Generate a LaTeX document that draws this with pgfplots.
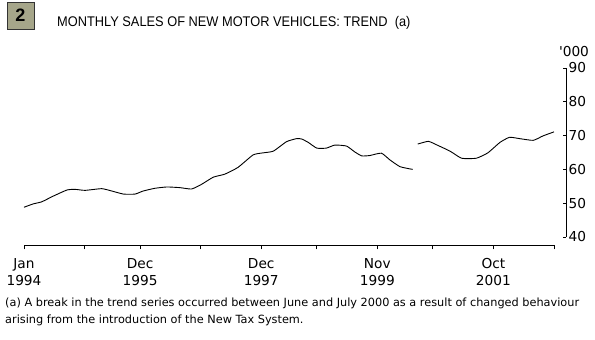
\documentclass[border=0pt]{standalone}
\usepackage{fontspec}
\setmainfont{Liberation Sans}
\newfontfamily\dvs{DejaVu Sans}
\usepackage{pgfplots}
\pgfplotsset{compat=1.18}
\definecolor{boxcol}{HTML}{A6A68A}
\begin{document}
\begin{tikzpicture}[x=1pt,y=1pt]
\useasboundingbox (0,0) rectangle (595,340);
% number box
\draw[fill=boxcol, draw=black!80, line width=0.8pt] (7,311) rectangle (34,338);
\node[font=\fontsize{18}{18}\selectfont\bfseries] at (20.5,324.5) {2};
% title
\node[anchor=base west, inner sep=0pt, font=\fontsize{14}{16}\selectfont] at (57,313) {\scalebox{0.915}[1]{MONTHLY SALES OF NEW MOTOR VEHICLES: TREND\ \ (a)}};
% footnote
\node[anchor=base west, inner sep=0pt, font=\dvs\fontsize{11.3}{16.5}\selectfont] at (5,33.3) {(a) A break in the trend series occurred between June and July 2000 as a result of changed behaviour};
\node[anchor=base west, inner sep=0pt, font=\dvs\fontsize{11.3}{16.5}\selectfont] at (5,16.7) {arising from the introduction of the New Tax System.};
% x axis
\begin{axis}[at={(24pt,94.5pt)}, anchor=south west, scale only axis,
  width=530pt, height=10pt, xmin=0, xmax=105, ymin=0, ymax=1,
  axis x line*=bottom, axis y line=none,
  xtick={0,23,47,70,93},
  xticklabels={Jan\\1994, Dec\\1995, Dec\\1997, Nov\\1999, Oct\\2001},
  minor xtick={12,35,58,81,105},
  tick align=outside, major tick length=4pt, minor tick length=4pt,
  tick style={black, line width=0.8pt},
  axis line style={black, line width=0.8pt, -},
  x tick label style={align=center, font=\dvs\fontsize{13.7}{17}\selectfont, inner sep=0pt, yshift=-9pt},
]
\end{axis}
% y axis and data
\begin{axis}[at={(24pt,103pt)}, anchor=south west, scale only axis,
  width=542pt, height=169pt, xmin=0, xmax=107.377, ymin=40, ymax=90,
  axis y line*=right, axis x line=none,
  ytick={40,50,60,70,80,90},
  tick align=inside, major tick length=3.5pt,
  tick style={black, line width=0.8pt},
  axis line style={black, line width=0.8pt, -},
  y tick label style={font=\dvs\fontsize{13.7}{16}\selectfont, inner sep=0pt, xshift=2.5pt},
  /pgf/number format/assume math mode=true,
  clip=false,
]
\addplot[black, line width=0.9pt, smooth, tension=0.3] coordinates {
(0,48.8) (1.84,49.8) (3.5,50.4) (5.8,52.1) (8.5,53.9) (10.1,54.1) (12.1,53.8)
(15.4,54.3) (17.4,53.6) (19.7,52.7) (22,52.7) (23.6,53.6) (25.9,54.4) (28.3,54.8)
(30.9,54.6) (33.2,54.2) (35.2,55.6) (37.5,57.7) (39.8,58.6) (42.4,60.6) (45.4,64.3)
(47.4,64.9) (49.4,65.4) (52,68.2) (54,69.1) (55,69.0) (56.3,68.0) (58,66.3)
(59.9,66.3) (61.6,67.2) (63.9,66.9) (65.5,65.2) (66.9,64.0) (68.5,64.1) (70.8,64.8)
(72.5,62.8) (74.5,60.8) (77,60.0)
};
\addplot[black, line width=0.9pt, smooth, tension=0.3] coordinates {
(78,67.5) (80.1,68.3) (81.7,67.3) (84.4,65.4) (86.7,63.3) (89.6,63.3) (91.9,64.9)
(94.3,68.0) (96.2,69.5) (98.2,69.1) (100.9,68.6) (102.8,69.9) (105,71.1)
};
\end{axis}
\node[font=\dvs\fontsize{13.7}{16}\selectfont, inner sep=0pt] at (574,288) {\textquotesingle000};
\end{tikzpicture}
\end{document}
